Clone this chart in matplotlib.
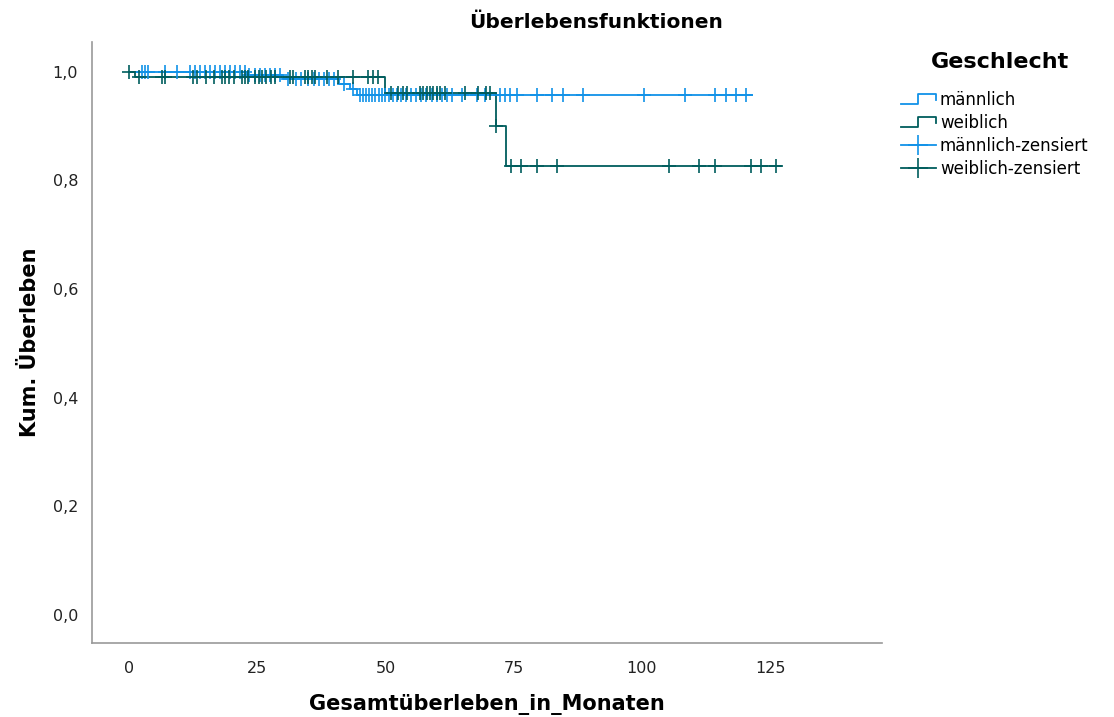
import numpy as np
import matplotlib
matplotlib.use('Agg')
import matplotlib.pyplot as plt
from matplotlib.lines import Line2D
from matplotlib.legend_handler import HandlerBase

# Kaplan-Meier steps (start of each step, survival level) and censoring times
male_steps = [0, 23, 30, 41, 43, 44.5]
male_surv = [1.0, 0.994, 0.986, 0.977, 0.968, 0.958]
male_end = 121.4
male_cens = [2.5, 3.1, 3.8, 7, 9.3, 11.9, 12.9, 13.8, 14.8, 15.8, 16.8, 17.7, 18.7,
             19.7, 20.7, 21.6, 22.6,
             23.5, 24.5, 25.5, 26.5, 27.5, 28.5, 29.5,
             31, 32.5, 33.5, 35, 36, 37, 38, 39, 40,
             42, 43.7,
             45, 45.6, 46.2, 46.8, 47.4, 48, 48.7, 49.3, 50, 50.7, 51.5, 52.2, 53,
             54, 55, 56, 57, 58, 59, 60, 61, 62, 63, 65, 67.8, 69.4,
             72.3, 73.3, 74.3, 75.6, 79.5, 82.5, 84.6, 88.5,
             100.4, 108.4, 114.2, 116.4, 118.3, 120.3]

female_steps = [0, 1.2, 50, 71.5, 73.6]
female_surv = [1.0, 0.991, 0.962, 0.900, 0.826]
female_end = 127.2
female_cens = [0, 2, 6.4, 7, 12.5, 13.3, 15, 16.5, 18.1, 18.7, 19.5, 20.5, 22, 22.6,
               23.2, 24.6, 25.3, 26, 26.8, 27.6, 28.5, 31.4, 32, 34.3, 35, 35.6,
               36.3, 38.6, 40.7, 43.7, 46.6, 47.6, 48.5,
               51, 52.4, 53.4, 54.2, 56.7, 57.3, 58.1, 58.7, 59.3, 60, 60.6, 61.6,
               65.5, 68, 69.7, 70.4,
               71.5,
               74.4, 76.5, 79.6, 83.5, 105.3, 111.1, 114.2, 121.2, 123.3, 126.1]

blue = '#1192e8'
teal = '#005d5d'


def surv_at(t, steps, surv):
    idx = np.searchsorted(steps, t, side='right') - 1
    return np.array(surv)[idx]


class StepHandler(HandlerBase):
    # small step glyph used for the survival-curve legend entries
    def create_artists(self, legend, orig_handle, xdescent, ydescent,
                       width, height, fontsize, trans):
        x0, y0 = -xdescent, -ydescent
        xs = [x0, x0 + 0.5*width, x0 + 0.5*width, x0 + width, x0 + width]
        ys = [y0 + 0.1*height, y0 + 0.1*height, y0 + 0.9*height,
              y0 + 0.9*height, y0 + 0.4*height]
        ln = Line2D(xs, ys, color=orig_handle.get_color(), lw=1.3, transform=trans)
        return [ln]


plt.rcParams['font.family'] = ['DejaVu Sans']

fig = plt.figure(figsize=(11.14, 7.17), dpi=100)
ax = fig.add_axes([0.0826, 0.1032, 0.7091, 0.8382])

ax.step(male_steps + [male_end], male_surv + [male_surv[-1]], where='post',
        color=blue, lw=1.3)
ax.step(female_steps + [female_end], female_surv + [female_surv[-1]], where='post',
        color=teal, lw=1.3)
ax.plot(male_cens, surv_at(male_cens, male_steps, male_surv), '+', color=blue,
        ms=10, mew=1.2)
ax.plot(female_cens, surv_at(female_cens, female_steps, female_surv), '+', color=teal,
        ms=10, mew=1.2)

ax.set_xlim(-7.2, 146.8)
ax.set_ylim(-0.052, 1.055)
ax.set_xticks([0, 25, 50, 75, 100, 125])
ax.set_yticks([0, 0.2, 0.4, 0.6, 0.8, 1.0])
ax.set_yticklabels([f'{v:.1f}'.replace('.', ',') for v in [0, 0.2, 0.4, 0.6, 0.8, 1.0]])
ax.tick_params(length=0, labelsize=11.5, colors='#222222')
ax.tick_params(axis='y', pad=10)
ax.tick_params(axis='x', pad=13)
for s in ['top', 'right']:
    ax.spines[s].set_visible(False)
for s in ['left', 'bottom']:
    ax.spines[s].set_color('#999999')
    ax.spines[s].set_linewidth(1.2)

fig.text(0.535, 0.969, 'Überlebensfunktionen', ha='center', va='center',
         fontsize=14.5, fontweight='bold')
fig.text(0.437, 0.018, 'Gesamtüberleben_in_Monaten', ha='center', va='center',
         fontsize=15, fontweight='bold')
fig.text(0.027, 0.522, 'Kum. Überleben', ha='center', va='center', rotation=90,
         fontsize=15, fontweight='bold')
fig.text(0.898, 0.913, 'Geschlecht', ha='center', va='center',
         fontsize=16, fontweight='bold')

handles = [Line2D([], [], color=blue), Line2D([], [], color=teal),
           Line2D([], [], color=blue, marker='+', ms=14, mew=1.2, lw=1.3),
           Line2D([], [], color=teal, marker='+', ms=14, mew=1.2, lw=1.3)]
labels = ['männlich', 'weiblich', 'männlich-zensiert', 'weiblich-zensiert']
leg = fig.legend(handles, labels, loc='upper left', bbox_to_anchor=(0.801, 0.885),
                 frameon=False, handlelength=2.1, handletextpad=0.25,
                 labelspacing=0.3, borderpad=0, prop={'size': 12},
                 handler_map={handles[0]: StepHandler(), handles[1]: StepHandler()})

fig.savefig('out.png', dpi=100)
